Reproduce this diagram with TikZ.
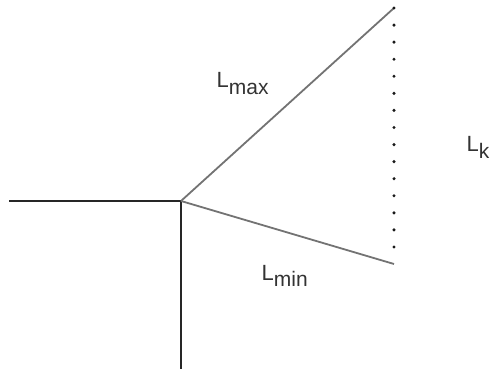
\documentclass[tikz,border=0pt]{standalone}
\usepackage{fontspec}
\setmainfont{Liberation Sans}
\usetikzlibrary{positioning}

% subscript at nearly full size, as in the reference
\newcommand{\lsub}[1]{\raisebox{-6.5pt}{\fontsize{21}{24}\selectfont #1}}

\begin{document}
\begin{tikzpicture}[
    x=1pt, y=-1pt,
    font=\fontsize{22}{26}\selectfont,
    % Define styles for consistent lines
    axis/.style={draw=black!85, line width=1.3pt},
    limit/.style={draw=black!55, line width=1.8pt},
    bound/.style={draw=black!90, line width=3.4pt, line cap=round, dash pattern=on 0pt off 17.07pt},
    lbl/.style={text=black!80, inner sep=0pt, anchor=base west}
]
\useasboundingbox (0,0) rectangle (491,369);

% --- Points ---
\coordinate (origin) at (181,201);
\coordinate (west) at (9,201);
\coordinate (south) at (181,369);
\coordinate (pmax) at (394,8);
\coordinate (pmin) at (394,264);

% --- Lines ---
\draw[axis] (west) -- (origin);
\draw[axis] (origin) -- (south);
\draw[limit] (origin) -- (pmax);
\draw[limit] (origin) -- (pmin);
\draw[bound] (pmax) -- (pmin);

% --- Labels ---
\node[lbl] (lmax) at (216.5,88) {L\lsub{max}};
\node[lbl] (lmin) at (261.5,280) {L\lsub{min}};
\node[lbl] (lk) at (466.5,152) {L\lsub{k}};

\end{tikzpicture}
\end{document}
